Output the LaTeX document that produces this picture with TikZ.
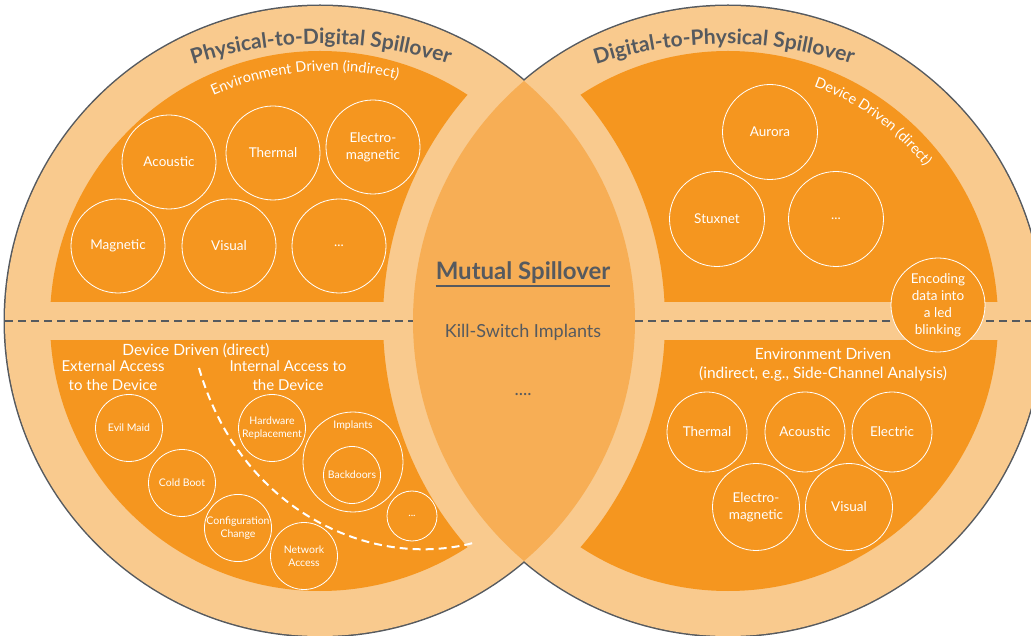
\documentclass[tikz,border=0pt]{standalone}
\usepackage{fontspec}
\setmainfont{Lato}
\usepackage{tikz}
\usetikzlibrary{decorations.text}

\definecolor{ring}{HTML}{F9CA8E}
\definecolor{core}{HTML}{F5961F}
\definecolor{lens}{HTML}{F7AE55}
\definecolor{ink}{HTML}{565A5F}

\begin{document}
\begin{tikzpicture}[x=1pt,y=1pt]
  \tikzstyle{bub}=[draw=white,circle,line width=0.8pt,inner sep=0pt,text=white,align=center,font=\fontsize{13.5}{17}\selectfont]
  \tikzstyle{sbub}=[bub,font=\fontsize{10.5}{13}\selectfont]
  \tikzstyle{lbl}=[text=white,align=center,font=\fontsize{15}{19}\selectfont]
  \tikzstyle{mid}=[text=ink,anchor=base,inner xsep=0pt]

  \useasboundingbox (0,0) rectangle (1031,635);
  \clip (0,0) rectangle (1031,635);

  \coordinate (L) at (320,314);
  \coordinate (R) at (728,314);

  % outline, rings and the overlap
  \draw[ink,line width=3pt] (L) circle (315) (R) circle (315);
  \fill[ring] (L) circle (315) (R) circle (315);
  \begin{scope}
    \clip (L) circle (315);
    \fill[lens] (R) circle (315);
  \end{scope}

  % four orange quarters
  \foreach \c/\o/\lo/\hi in {L/R/333.5/700, L/R/-100/294.5, R/L/333.5/700, R/L/-100/294.5} {
    \begin{scope}
      \clip (\c) circle (270);
      \clip (-100,\lo) rectangle (1200,\hi);
      \fill[core,even odd rule] (-100,-100) rectangle (1200,800) (\o) circle (345);
    \end{scope}
  }

  % split line
  \coordinate (dl1) at (5,314);
  \coordinate (dl2) at (413,314);
  \coordinate (dr1) at (635,314);
  \coordinate (dr2) at (1031,314);
  \draw[ink,line width=2pt,dash pattern=on 8pt off 5pt] (dl1) -- (dl2) (dr1) -- (dr2);

  % titles on the rims
  \coordinate (tl) at (321,180);
  \coordinate (tr) at (724,180);
  \path[decorate,decoration={text along path,text align=center,text color=ink,
    text={|\fontsize{21}{21}\selectfont\bfseries|Physical-to-Digital Spillover}}]
    ([shift={(135:411)}]tl) arc[start angle=135,end angle=45,radius=411];
  \path[decorate,decoration={text along path,text align=center,text color=ink,
    text={|\fontsize{21}{21}\selectfont\bfseries|Digital-to-Physical Spillover}}]
    ([shift={(135:411)}]tr) arc[start angle=135,end angle=45,radius=411];

  % Physical-to-Digital, environment driven
  \coordinate (te) at (329,280);
  \path[decorate,decoration={text along path,text align=center,text color=white,
    text={|\fontsize{14.5}{14.5}\selectfont|Environment Driven (indirect)}}]
    ([shift={(140:284)}]te) arc[start angle=140,end angle=50,radius=284];
  \node[bub,minimum size=94pt] (pA) at (169,473) {Acoustic};
  \node[bub,minimum size=94pt] (pT) at (273,482) {Thermal};
  \node[bub,minimum size=94pt] (pE) at (373,488) {Electro-\\magnetic};
  \node[bub,minimum size=94pt] (pM) at (118,389) {Magnetic};
  \node[bub,minimum size=94pt] (pV) at (229,389) {Visual};
  \node[bub,minimum size=94pt] (pX) at (339,389) {...};

  % Digital-to-Physical, device driven
  \path[decorate,decoration={text along path,text align=center,text color=white,
    text={|\fontsize{14.5}{14.5}\selectfont|Device Driven (direct)}}]
    ([shift={(99:250)}]R) arc[start angle=99,end angle=9,radius=250];
  \node[bub,minimum size=95pt] (dA) at (770,503) {Aurora};
  \node[bub,minimum size=95pt] (dS) at (717,416) {Stuxnet};
  \node[bub,minimum size=95pt] (dX) at (836,416) {...};
  \node[bub,fill=core,minimum size=94pt] (dE) at (938,330) {Encoding\\data into\\a led\\blinking};

  % Physical-to-Digital, device driven
  \node[lbl,font=\fontsize{15.5}{19}\selectfont] (ddl) at (196,284) {Device Driven (direct)};
  \node[lbl] (ext) at (113,259.5) {External Access\\to the Device};
  \node[lbl] (int) at (288,259.5) {Internal Access to\\the Device};
  \coordinate (cv1) at (199,267);
  \coordinate (cv2) at (473,92);
  \draw[white,line width=2pt,dash pattern=on 8pt off 5pt] (cv1) .. controls (240,125) and (370,65) .. (cv2);
  \node[sbub,minimum size=67pt] (eM) at (129,207) {Evil Maid};
  \node[sbub,minimum size=67pt] (cB) at (182,152) {Cold Boot};
  \node[sbub,minimum size=67pt] (cC) at (238,107) {Configuration\\Change};
  \node[sbub,minimum size=67pt] (nA) at (304,79) {Network\\Access};
  \node[sbub,minimum size=67pt] (hR) at (272,207) {Hardware\\Replacement};
  \node[sbub,minimum size=100pt] (im) at (353,173) {};
  \node[text=white,font=\fontsize{10.5}{13}\selectfont] (imT) at (353,209) {Implants};
  \node[sbub,minimum size=57pt] (bd) at (352,160) {Backdoors};
  \node[sbub,minimum size=50pt] (iX) at (412,119) {...};

  % Digital-to-Physical, environment driven
  \node[lbl,font=\fontsize{15.5}{19}\selectfont] (envR) at (823,270.5) {Environment Driven\\(indirect, e.g., Side-Channel Analysis)};
  \node[bub,minimum size=80pt] (tH) at (707,203) {Thermal};
  \node[bub,minimum size=80pt] (aC) at (805,203) {Acoustic};
  \node[bub,minimum size=80pt] (eL) at (892,203) {Electric};
  \node[bub,minimum size=87pt] (eG) at (756,128) {Electro-\\magnetic};
  \node[bub,minimum size=87pt] (vI) at (849,128) {Visual};

  % overlap
  \node[mid,font=\fontsize{24}{24}\selectfont\bfseries] (mut) at (523,355) {Mutual Spillover};
  \draw[ink,line width=2pt] ([yshift=-6pt]mut.base west) -- ([yshift=-6pt]mut.base east);
  \node[mid,font=\fontsize{18}{18}\selectfont] (ks) at (523,297) {Kill-Switch Implants};
  \node[mid,font=\fontsize{18}{18}\selectfont] (dots) at (523,239) {....};
\end{tikzpicture}
\end{document}
